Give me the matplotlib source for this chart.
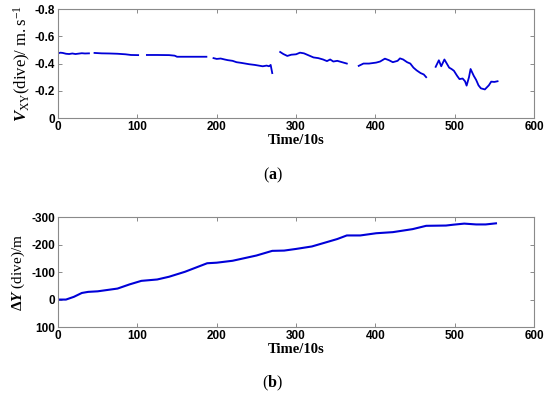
import numpy as np
import matplotlib.pyplot as plt

plt.rcParams['mathtext.fontset'] = 'custom'
plt.rcParams['mathtext.rm'] = 'Liberation Serif'
plt.rcParams['mathtext.it'] = 'Liberation Serif:italic:bold'
plt.rcParams['mathtext.bf'] = 'Liberation Serif:bold'

# panel (a): horizontal speed during dives, gaps between dives
seg_x = [
    [0, 3, 6, 10, 14, 18, 22, 26, 30, 34, 39],
    [46, 55, 65, 75, 85, 92, 101],
    [112, 125, 140, 147, 150, 165, 187],
    [196, 200, 205, 210, 214, 220, 225, 231, 236, 241, 248, 253, 258, 263, 266, 268, 270],
    [280, 284, 289, 294, 300, 305, 310, 316, 322, 328, 334, 339, 343, 347, 352, 358, 364],
    [379, 385, 392, 401, 406, 412, 417, 422, 428, 431, 435, 440, 444, 448, 452, 457, 461, 464],
    [476, 480, 483, 487, 490, 493, 496, 499, 503, 506, 510, 513, 515, 518, 520, 524, 527,
     530, 533, 538, 543, 546, 550, 554],
]
seg_v = [
    [-0.475, -0.48, -0.478, -0.472, -0.47, -0.474, -0.47, -0.473, -0.476, -0.474, -0.475],
    [-0.478, -0.475, -0.474, -0.472, -0.468, -0.463, -0.462],
    [-0.463, -0.463, -0.462, -0.458, -0.45, -0.45, -0.45],
    [-0.44, -0.434, -0.437, -0.43, -0.425, -0.42, -0.41, -0.405, -0.4, -0.395, -0.39, -0.385,
     -0.38, -0.385, -0.38, -0.39, -0.33],
    [-0.485, -0.47, -0.456, -0.465, -0.468, -0.48, -0.475, -0.46, -0.445, -0.44, -0.43, -0.418,
     -0.43, -0.415, -0.42, -0.41, -0.40],
    [-0.383, -0.40, -0.40, -0.407, -0.415, -0.436, -0.425, -0.41, -0.42, -0.438, -0.43, -0.41,
     -0.40, -0.37, -0.35, -0.33, -0.32, -0.30],
    [-0.376, -0.424, -0.38, -0.43, -0.40, -0.37, -0.36, -0.347, -0.31, -0.286, -0.29, -0.27,
     -0.238, -0.30, -0.36, -0.31, -0.28, -0.24, -0.218, -0.21, -0.24, -0.267, -0.265, -0.27],
]

# panel (b): lateral displacement
t_dy = [0, 10, 20, 30, 38, 50, 75, 90, 105, 125, 140, 160, 188, 200, 220, 250, 270, 285,
        300, 320, 339, 352, 364, 381, 401, 422, 447, 464, 489, 498, 512, 527, 539, 552]
dy = [0, 0, -10, -24, -28, -30, -40, -55, -68, -73, -83, -101, -132, -134, -141, -160, -177,
      -178, -184, -193, -209, -220, -233, -233, -241, -245, -256, -268, -269, -272, -276,
      -273, -273, -277]

blue = '#0000d8'
edge = '#8a8a8a'
tickfont = {'family': 'Liberation Sans', 'weight': 'bold', 'size': 8.5}

fig = plt.figure(figsize=(5.5, 3.96), dpi=100)
ax1 = fig.add_axes([0.1055, 0.702, 0.8655, 0.275])
ax2 = fig.add_axes([0.1055, 0.174, 0.8655, 0.278])

for xs, vs in zip(seg_x, seg_v):
    ax1.plot(xs, vs, color=blue, lw=1.3)
ax2.plot(t_dy, dy, color=blue, lw=1.5)

ax1.set_ylim(0, -0.8)
ax1.set_yticks([0, -0.2, -0.4, -0.6, -0.8])
ax1.set_yticklabels(['0', '-0.2', '-0.4', '-0.6', '-0.8'])
ax2.set_ylim(100, -300)
ax2.set_yticks([100, 0, -100, -200, -300])
ax2.set_yticklabels(['100', '0', '-100', '-200', '-300'])

for ax in (ax1, ax2):
    ax.set_xlim(0, 600)
    ax.set_xticks([0, 100, 200, 300, 400, 500, 600])
    for s in ax.spines.values():
        s.set_color(edge)
        s.set_linewidth(0.8)
    ax.tick_params(direction='in', top=True, right=True, length=3, width=0.7,
                   color=edge, pad=2)
    for lab in ax.get_xticklabels() + ax.get_yticklabels():
        lab.set_fontproperties(tickfont)
    ax.set_xlabel('Time/10s', family='Liberation Serif', weight='bold', size=10.5, labelpad=1)

ax1.set_ylabel(r'$\mathit{V}_{\mathrm{XY}}\mathrm{(dive)/\ m{.}s^{-1}}$', size=12, labelpad=1)
ax2.set_ylabel(r'$\mathbf{\Delta}\mathit{Y}\ \mathrm{(dive)/m}$', size=11, labelpad=3)

fig.text(0.496, 0.558, r'($\mathbf{a}$)', family='Liberation Serif', size=11.5,
         ha='center', va='center')
fig.text(0.496, 0.033, r'($\mathbf{b}$)', family='Liberation Serif', size=11.5,
         ha='center', va='center')

fig.savefig('out.png', dpi=100)
